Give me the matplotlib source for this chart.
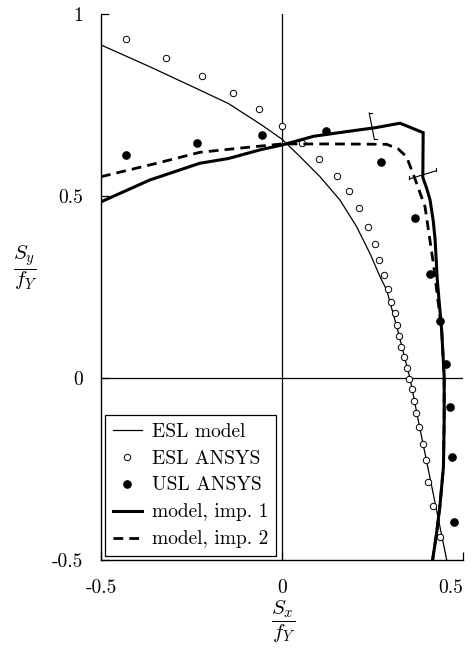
"""
Interaction diagram Sy/fY vs Sx/fY: ESL model, ANSYS points, and
the two imperfection models. Values read off the reference figure.
"""

import matplotlib
matplotlib.use("Agg")
import matplotlib.pyplot as plt

plt.rcParams["font.family"] = "serif"
plt.rcParams["font.serif"] = ["cmr10", "DejaVu Serif"]
plt.rcParams["mathtext.fontset"] = "cm"
plt.rcParams["axes.unicode_minus"] = False

# ─────────────────────────────────────────────────────────────
# ESL model (thin line)
esl_model_x = [-0.5, -0.365, -0.227, -0.148, -0.056, 0.0, 0.050, 0.105, 0.160,
               0.206, 0.243, 0.271, 0.289, 0.320, 0.354, 0.380, 0.411, 0.455]
esl_model_y = [0.915, 0.855, 0.791, 0.754, 0.695, 0.656, 0.608, 0.553, 0.489,
               0.416, 0.342, 0.278, 0.242, 0.130, -0.003, -0.134, -0.285, -0.5]

# ESL ANSYS (open circles)
esl_ansys_x = [-0.432, -0.320, -0.221, -0.136, -0.064, 0.001, 0.055, 0.103, 0.151,
               0.184, 0.214, 0.238, 0.258, 0.269, 0.283, 0.294, 0.301, 0.312,
               0.317, 0.322, 0.328, 0.337, 0.344, 0.350, 0.360, 0.365, 0.371,
               0.378, 0.389, 0.397, 0.404, 0.418, 0.436]
esl_ansys_y = [0.931, 0.880, 0.829, 0.782, 0.740, 0.692, 0.645, 0.602, 0.556,
               0.513, 0.466, 0.414, 0.367, 0.324, 0.283, 0.245, 0.208, 0.179,
               0.146, 0.115, 0.085, 0.057, 0.027, -0.003, -0.030, -0.063, -0.097,
               -0.134, -0.180, -0.225, -0.285, -0.351, -0.436]

# USL ANSYS (filled circles)
usl_ansys_x = [-0.431, -0.235, -0.055, 0.121, 0.273, 0.367, 0.410, 0.436,
               0.452, 0.463, 0.470, 0.474]
usl_ansys_y = [0.614, 0.645, 0.667, 0.679, 0.594, 0.440, 0.286, 0.157,
               0.038, -0.081, -0.218, -0.396]

# model, imp. 1 (thick solid)
imp1_x = [-0.5, -0.365, -0.227, -0.148, -0.056, 0.0, 0.087, 0.179, 0.260, 0.326,
          0.390, 0.389, 0.400, 0.409, 0.418, 0.423, 0.429, 0.441, 0.448, 0.448,
          0.446, 0.436, 0.427, 0.416]
imp1_y = [0.484, 0.544, 0.590, 0.603, 0.628, 0.640, 0.664, 0.677, 0.688, 0.700,
          0.674, 0.551, 0.520, 0.489, 0.430, 0.379, 0.269, 0.132, 0.004, -0.115,
          -0.244, -0.354, -0.427, -0.5]

# model, imp. 2 (thick dashed)
imp2_x = [-0.5, -0.346, -0.227, -0.102, 0.0, 0.150, 0.289, 0.320, 0.344, 0.367,
          0.395, 0.418, 0.430, 0.441, 0.448, 0.448, 0.446, 0.436, 0.427, 0.416]
imp2_y = [0.553, 0.590, 0.620, 0.633, 0.643, 0.643, 0.642, 0.630, 0.608, 0.548,
          0.471, 0.315, 0.220, 0.132, 0.004, -0.115, -0.244, -0.354, -0.427, -0.5]

# bracket marks on the imp. 1 curve: (x0, y0, x1, y1)
brackets = [(0.241, 0.728, 0.255, 0.656),
            (0.352, 0.547, 0.425, 0.569)]

xticks = [-0.5, 0, 0.5]
xtick_labels = ["-0.5", "0", "0.5"]
yticks = [-0.5, 0, 0.5, 1]
ytick_labels = ["-0.5", "0", "0.5", "1"]


def main():
    fig = plt.figure(figsize=(4.77, 6.56), dpi=100)
    ax = fig.add_axes([101 / 477, 96 / 656, 362 / 477, 546 / 656])

    ax.axhline(0, color="black", lw=0.9, zorder=1)
    ax.axvline(0, color="black", lw=0.9, zorder=1)

    ax.plot(esl_model_x, esl_model_y, color="black", lw=0.9, label="ESL model")
    ax.plot(esl_ansys_x, esl_ansys_y, ls="none", marker="o", ms=4.6,
            mfc="white", mec="black", mew=0.7, label="ESL ANSYS")
    ax.plot(usl_ansys_x, usl_ansys_y, ls="none", marker="o", ms=5.2,
            mfc="black", mec="black", label="USL ANSYS")
    ax.plot(imp1_x, imp1_y, color="black", lw=2.2, label="model, imp. 1",
            solid_joinstyle="miter")
    ax.plot(imp2_x, imp2_y, color="black", lw=2.0, ls=(0, (3.5, 2.2)),
            label="model, imp. 2")

    # bracket marks (main stroke + short caps)
    for x0, y0, x1, y1 in brackets:
        ax.plot([x0, x1], [y0, y1], color="black", lw=0.8)
        if x1 - x0 < 0.05:
            cx, cy = 0.008, 0.0
        else:
            cx, cy = 0.0, 0.008
        ax.plot([x0, x0 + cx], [y0, y0 + cy], color="black", lw=0.8)
        ax.plot([x1, x1 + cx], [y1, y1 + cy], color="black", lw=0.8)

    ax.set_xlim(-0.5, 0.5)
    ax.set_ylim(-0.5, 1.0)
    ax.spines["top"].set_visible(False)
    ax.spines["right"].set_visible(False)
    for s in ("left", "bottom"):
        ax.spines[s].set_linewidth(1.0)

    ax.set_xticks(xticks)
    ax.set_xticklabels(xtick_labels, fontsize=14)
    ax.set_yticks(yticks)
    ax.set_yticklabels(ytick_labels, fontsize=14)
    ax.tick_params(direction="in", length=6, width=0.9)
    ax.tick_params(axis="x", pad=14)
    ax.tick_params(axis="y", pad=13)
    ax.get_xticklabels()[-1].set_ha("right")

    fig.text(283 / 477, (656 - 622) / 656, r"$\dfrac{S_x}{f_Y}$",
             ha="center", va="center", fontsize=15)
    fig.text(25 / 477, (656 - 268) / 656, r"$\dfrac{S_y}{f_Y}$",
             ha="center", va="center", fontsize=15)

    leg = ax.legend(loc="lower left", fontsize=14, frameon=True, fancybox=False,
                    edgecolor="black", framealpha=1, handlelength=1.5,
                    handletextpad=0.5, labelspacing=0.46, borderpad=0.4,
                    borderaxespad=0.2)
    leg.get_frame().set_linewidth(0.9)

    fig.savefig("out.png", dpi=100)


if __name__ == "__main__":
    main()
